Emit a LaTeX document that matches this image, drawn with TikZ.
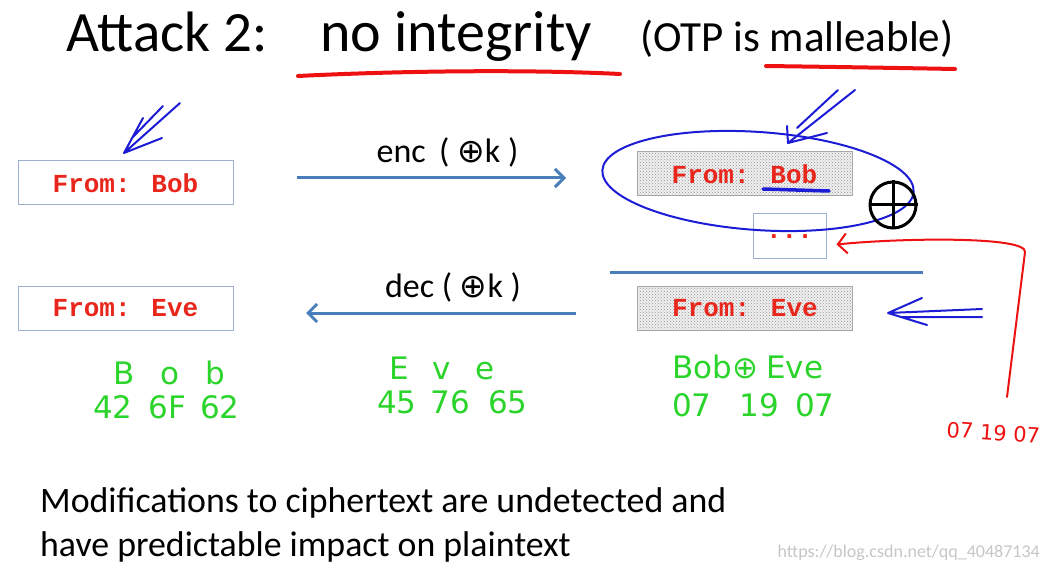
\documentclass[tikz,border=0pt]{standalone}
\usepackage{fontspec}
\setmainfont{Carlito}
\newfontfamily\msgfont{Liberation Mono}
\newfontfamily\handfont{DejaVu Sans}
\usetikzlibrary{positioning,arrows.meta,patterns,calc}
\definecolor{slideblue}{HTML}{4A7EBB}
\definecolor{boxframe}{HTML}{9DAFCF}
\definecolor{msgred}{HTML}{E8261C}
\definecolor{penblue}{HTML}{1C1CD6}
\definecolor{penred}{HTML}{EE1111}
\definecolor{pengreen}{HTML}{2BD42B}
\newcommand{\bigxor}{{\handfont\fontsize{33}{33}\selectfont ⊕}}
\tikzset{
    msg/.style={draw=boxframe,line width=1pt,minimum width=215pt,minimum height=44pt,inner sep=0pt,
        font=\msgfont\bfseries\fontsize{26}{26}\selectfont,text=msgred},
    cipher/.style={msg,draw=gray!65,fill=gray!12,postaction={pattern=crosshatch dots,pattern color=gray!85}},
    flow/.style={draw=slideblue,line width=3pt,-{Straight Barb[length=9pt,width=18pt,line width=3pt]}},
    flowlabel/.style={font=\fontsize{34}{34}\selectfont,inner sep=0pt},
    hand/.style={text=pengreen,font=\handfont\fontsize{31}{31}\selectfont,anchor=base west,inner sep=0pt},
    pen/.style={line width=2pt,line cap=round,line join=round},
    marker/.style={draw=penred,line width=4pt,line cap=round},
}

\begin{document}
\begin{tikzpicture}[x=1pt,y=-1pt]
    \useasboundingbox (0,0) rectangle (1046,569);

    % title
    \node[anchor=base west,inner sep=0pt,font=\fontsize{57}{57}\selectfont] (title) at (66,52) {Attack 2:};
    \node[anchor=base west,inner sep=0pt,font=\fontsize{58}{58}\selectfont] (integ) at (320,52) {no integrity};
    \node[anchor=base west,inner sep=0pt,font=\fontsize{43}{43}\selectfont] (otp) at (640,52) {(OTP is malleable)};
    \draw[marker] (298,76) .. controls (420,70) and (540,70) .. (620,74);
    \draw[marker] (766,66) .. controls (840,67) and (900,68) .. (955,69);

    % plaintext side
    \node[msg] (bob) at (125.5,183) {From: Bob};
    \node[msg] (eve) at (125.5,308.5) {From: Eve};

    % ciphertext side
    \node[cipher] (cbob) at (744.5,174) {From: Bob};
    \node[msg,draw=boxframe,minimum width=73pt,minimum height=45pt] (dots) at (789.5,236.5) {\raisebox{-4pt}{...}};
    \node[cipher] (ceve) at (745,308.5) {From: Eve};
    \draw[slideblue,line width=3pt] (610,272) -- (923,272);

    \coordinate (encL) at (297,178);
    \coordinate (encR) at (566,178);
    \coordinate (decR) at (576,313);
    \coordinate (decL) at (306,313);
    \path
    (encL) edge[flow] node[flowlabel,above=9pt,xshift=16pt] {enc\, ( \bigxor k )} (encR)
    (decR) edge[flow] node[flowlabel,above=9pt,xshift=12pt] {dec ( \bigxor k )} (decL);

    % pen marks
    \draw[pen,penblue] (180,103) -- (124,153) (163,106) -- (132,138)
        (143,118) -- (124,153) -- (162,138);
    \draw[pen,penblue] (855,90) -- (788,143) (838,90) -- (797,128)
        (787,126) -- (788,143) -- (827,133);
    \draw[pen,penblue] (982,309) -- (888,313) (982,317) -- (902,317)
        (922,298) -- (888,313) -- (927,325);
    \draw[penblue,line width=3.5pt,line cap=round] (763,189) -- (829,191);
    \draw[pen,penblue] (758,181) ellipse [x radius=156pt,y radius=49pt,rotate=-4];

    \node[circle,draw,line width=3pt,minimum size=46pt,inner sep=0pt] (xor) at (893,205) {};
    \draw[line width=3pt] (xor.north) -- (xor.south) (xor.west) -- (xor.east);

    \coordinate (redtail) at (1007,397);
    \draw[pen,penred,-{Straight Barb[length=9pt,width=20pt,line width=2pt]}]
        (redtail) -- (1025,252) .. controls (1027,236) and (900,238) .. ($(dots.east)+(10,8)$);
    \node[anchor=base west,inner sep=0pt,text=penred,font=\handfont\fontsize{21}{21}\selectfont,rotate=-4] (key) at (946,437) {07 19 07};

    % hex values
    \node[hand] (pb) at (113,384) {B\hspace{26pt}o\hspace{26pt}b};
    \node[hand] (pbx) at (93,418) {42\hspace{16pt}6F\hspace{14pt}62};
    \node[hand] (pe) at (389,379) {E\hspace{24pt}v\hspace{24pt}e};
    \node[hand] (pex) at (377,413) {45\hspace{14pt}76\hspace{18pt}65};
    \node[hand] (px) at (672,378) {Bob⊕\hspace{8pt}Eve};
    \node[hand] (pxx) at (672,416) {07\hspace{28pt}19\hspace{16pt}07};

    % conclusion
    \node[anchor=base west,inner sep=0pt,font=\fontsize{35.8}{35.8}\selectfont] (moral) at (40,512)
        {Modifications to ciphertext are undetected and};
    \node[anchor=base west,inner sep=0pt,font=\fontsize{35.8}{35.8}\selectfont] (moral2) at (40,556)
        {have predictable impact on plaintext};
    \node[anchor=base east,inner sep=0pt,text=gray!45,font=\fontsize{18}{18}\selectfont] (wm) at (1040,557)
        {https://blog.csdn.net/qq\_40487134};
\end{tikzpicture}
\end{document}
